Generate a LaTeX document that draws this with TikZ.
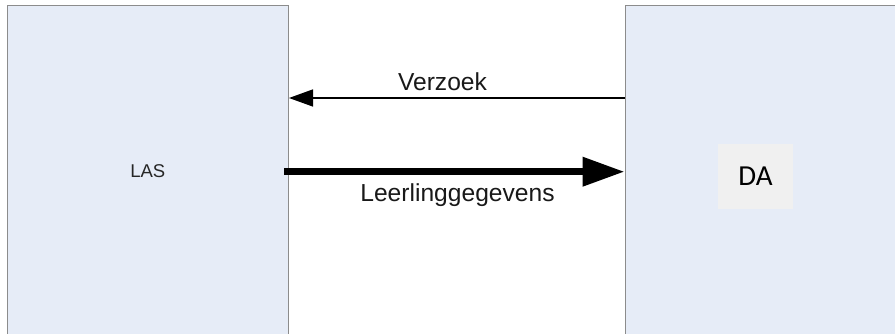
\documentclass[tikz,border=0pt]{standalone}
\usepackage{fontspec}
\setmainfont{Liberation Sans}
\newfontfamily\carlito{Carlito}
\usetikzlibrary{arrows.meta}
\definecolor{boxfill}{HTML}{E6ECF7}
\definecolor{boxline}{HTML}{8C8C8C}
\definecolor{dafill}{HTML}{F0F0F0}
\tikzset{
  sysbox/.style={draw=boxline, line width=1pt, fill=boxfill, inner sep=0pt},
  lbl/.style={inner sep=0pt, font=\fontsize{24.6}{28}\selectfont, text=black!90},
  thinarrow/.style={line width=1.5pt, -{Triangle[length=24pt,width=17pt]}},
  thickarrow/.style={line width=7pt, -{Triangle[length=42pt,width=28pt]}},
}
\begin{document}
\begin{tikzpicture}[x=1pt,y=-1pt]
\useasboundingbox (0,0) rectangle (895,334);
\clip (0,0) rectangle (895,334);
\fill[white] (0,0) rectangle (895,334);
\node[sysbox, minimum width=281.5pt, minimum height=330pt, font=\fontsize{18.5}{20}\selectfont, text=black!85] (las) at (147.75,171) {LAS};
\node[sysbox, minimum width=300pt, minimum height=330pt] (rbox) at (775,171) {};
\node[fill=dafill, minimum width=75pt, minimum height=65pt, inner sep=0pt, font=\carlito\fontsize{29}{32}\selectfont] (da) at (755.5,176.5) {DA};
\coordinate (vy) at (0,98);
\coordinate (ly) at (0,171.7);
\draw[thinarrow] (rbox.west |- vy) -- (las.east |- vy);
\draw[thickarrow] ([xshift=-5pt]las.east |- ly) -- (rbox.west |- ly);
\node[lbl] (verzoek) at (442.5,82) {Verzoek};
\node[lbl] (leer) at (457.5,195) {Leerlinggegevens};
\end{tikzpicture}
\end{document}
